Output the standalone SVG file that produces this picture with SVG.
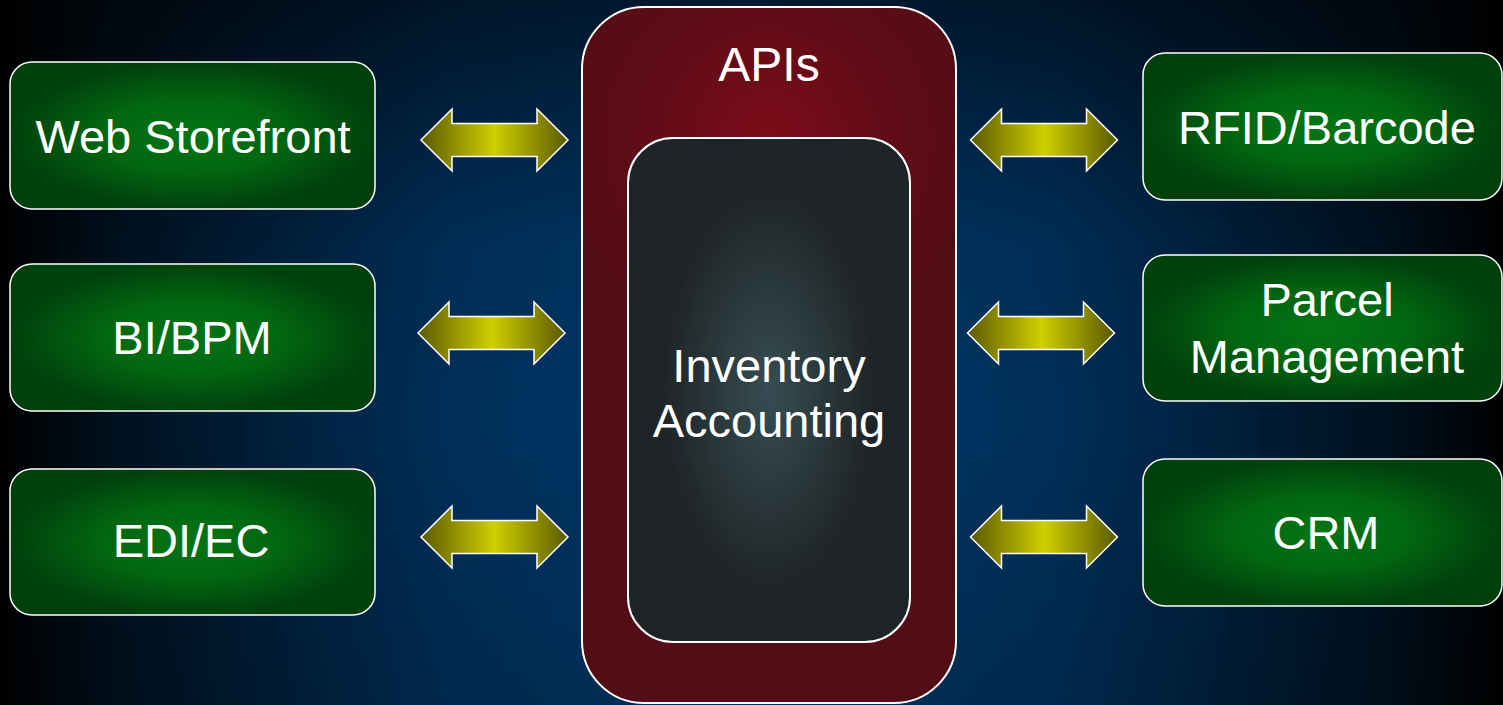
<svg xmlns="http://www.w3.org/2000/svg" width="1503" height="705" viewBox="0 0 1503 705">
<defs>
<linearGradient id="bgH" x1="0" y1="0" x2="1" y2="0">
<stop offset="0" stop-color="#000000"/>
<stop offset="0.08" stop-color="#00111f"/>
<stop offset="0.3" stop-color="#002f5a"/>
<stop offset="0.5" stop-color="#003a6c"/>
<stop offset="0.7" stop-color="#002f5a"/>
<stop offset="0.92" stop-color="#00111f"/>
<stop offset="1" stop-color="#000000"/>
</linearGradient>
<linearGradient id="bgV" x1="0" y1="0" x2="0" y2="1">
<stop offset="0" stop-color="#000000" stop-opacity="0.55"/>
<stop offset="0.35" stop-color="#000000" stop-opacity="0.05"/>
<stop offset="0.6" stop-color="#000000" stop-opacity="0"/>
<stop offset="1" stop-color="#000000" stop-opacity="0.15"/>
</linearGradient>
<radialGradient id="green" cx="0.5" cy="0.5" r="0.5">
<stop offset="0" stop-color="#037515"/>
<stop offset="0.5" stop-color="#026611"/>
<stop offset="1" stop-color="#00400c"/>
</radialGradient>
<radialGradient id="red" cx="0.5" cy="0.19" r="0.6" gradientTransform="translate(0.5 0.19) scale(1 0.55) translate(-0.5 -0.19)">
<stop offset="0" stop-color="#7d0c19"/>
<stop offset="0.5" stop-color="#620c17"/>
<stop offset="1" stop-color="#520d16"/>
</radialGradient>
<radialGradient id="grey" cx="0.5" cy="0.5" r="0.5" gradientTransform="translate(0.5 0.5) scale(0.75 0.8) translate(-0.5 -0.5)">
<stop offset="0" stop-color="#364d53"/>
<stop offset="0.55" stop-color="#2a373a"/>
<stop offset="1" stop-color="#1f2427"/>
</radialGradient>
<linearGradient id="arrowFill" x1="0" y1="0" x2="1" y2="0">
<stop offset="0" stop-color="#5a5a00"/>
<stop offset="0.5" stop-color="#d0cf00"/>
<stop offset="1" stop-color="#5a5a00"/>
</linearGradient>
<path id="dbl" d="M -73.5 0 L -42.5 -31 L -42.5 -16.5 L 42.5 -16.5 L 42.5 -31 L 73.5 0 L 42.5 31 L 42.5 16.5 L -42.5 16.5 L -42.5 31 Z"/>
</defs>
<style>
.box{fill:url(#green);stroke:#ffffff;stroke-width:1.5}
.lbl{font-family:"Liberation Sans",Arial,Helvetica,sans-serif;font-size:47px;fill:#ffffff;text-anchor:middle}
.arr{fill:url(#arrowFill);stroke:#ffffff;stroke-width:1.5;stroke-linejoin:miter}
</style>
<rect x="0" y="0" width="1503" height="705" fill="url(#bgH)"/>
<rect x="0" y="0" width="1503" height="705" fill="url(#bgV)"/>

<g id="apis">
<rect x="582" y="7" width="374" height="696" rx="62" ry="62" fill="url(#red)" stroke="#ffffff" stroke-width="2"/>
<text class="lbl" x="769" y="81" style="font-size:48px">APIs</text>
</g>
<g id="inventory-accounting">
<rect x="628" y="138" width="282" height="504" rx="45" ry="45" fill="url(#grey)" stroke="#ffffff" stroke-width="2"/>
<text class="lbl" x="769" y="382">Inventory</text>
<text class="lbl" x="769" y="437">Accounting</text>
</g>

<g id="web-storefront">
<rect class="box" x="10" y="62" width="365" height="147" rx="22" ry="22"/>
<text class="lbl" x="193" y="153">Web Storefront</text>
</g>
<g id="bi-bpm">
<rect class="box" x="10" y="264" width="365" height="147" rx="22" ry="22"/>
<text class="lbl" x="192" y="354">BI/BPM</text>
</g>
<g id="edi-ec">
<rect class="box" x="10" y="469" width="365" height="146" rx="22" ry="22"/>
<text class="lbl" x="191" y="557">EDI/EC</text>
</g>
<g id="rfid-barcode">
<rect class="box" x="1143" y="53" width="359" height="147" rx="22" ry="22"/>
<text class="lbl" x="1327" y="144">RFID/Barcode</text>
</g>
<g id="parcel-management">
<rect class="box" x="1143" y="255" width="359" height="146" rx="22" ry="22"/>
<text class="lbl" x="1327" y="316">Parcel</text>
<text class="lbl" x="1327" y="373">Management</text>
</g>
<g id="crm">
<rect class="box" x="1143" y="459" width="359" height="147" rx="22" ry="22"/>
<text class="lbl" x="1326" y="549">CRM</text>
</g>

<g id="connectors">
<use href="#dbl" class="arr" transform="translate(494.5 140)"/>
<use href="#dbl" class="arr" transform="translate(491.5 333)"/>
<use href="#dbl" class="arr" transform="translate(494.5 537)"/>
<use href="#dbl" class="arr" transform="translate(1044 140)"/>
<use href="#dbl" class="arr" transform="translate(1041 333)"/>
<use href="#dbl" class="arr" transform="translate(1044 537)"/>
</g>
</svg>
